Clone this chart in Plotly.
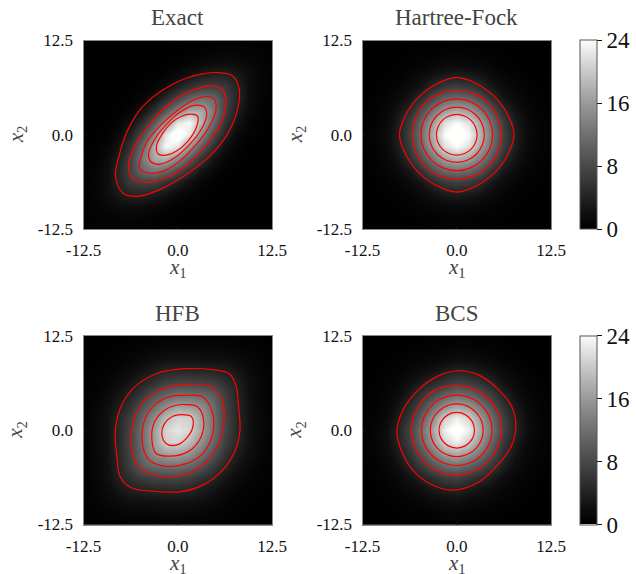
import plotly.graph_objects as go

grid = [-12.5, -10.9375, -9.375, -7.8125, -6.25, -4.6875, -3.125, -1.5625, 0,
        1.5625, 3.125, 4.6875, 6.25, 7.8125, 9.375, 10.9375, 12.5]
tick_vals = [-12.5, 0, 12.5]
tick_text = ["-12.5", "0.0", "12.5"]
titles = ["Exact", "Hartree-Fock", "HFB", "BCS"]
cbar_vals = [0, 8, 16, 24]

exact = [
 [.13,.2,.3,.3,.3,.22,.15,.08,.05,.02,.01,0,0,0,0,0,0],
 [.2,.45,.65,.75,.8,.65,.45,.3,.15,.08,.03,.01,0,0,0,0,0],
 [.3,.65,1.2,1.8,2,1.8,1.4,.8,.45,.22,.1,.04,.01,0,0,0,0],
 [.3,.75,1.8,3.2,4.2,4.4,3.6,2.6,1.4,.7,.3,.12,.04,.01,0,0,0],
 [.3,.8,2,4.2,6.6,7.5,7.3,5.8,4.1,2.1,.9,.35,.13,.04,.01,0,0],
 [.22,.65,1.8,4.4,7.5,11.5,12.9,11.3,8.2,5.2,2.6,1,.35,.12,.04,.01,0],
 [.15,.45,1.4,3.6,7.3,12.9,17.4,18,14.5,9.8,5.6,2.6,.9,.3,.1,.03,.01],
 [.08,.3,.8,2.6,5.8,11.3,18,23.8,22.2,15.7,9.8,5.2,2.1,.7,.22,.08,.02],
 [.05,.15,.45,1.4,4.1,8.2,14.5,22.2,26,22.2,14.5,8.2,4.1,1.4,.45,.15,.05],
 [.02,.08,.22,.7,2.1,5.2,9.8,15.7,22.2,23.8,18,11.3,5.8,2.6,.8,.3,.08],
 [.01,.03,.1,.3,.9,2.6,5.6,9.8,14.5,18,17.4,12.9,7.3,3.6,1.4,.45,.15],
 [0,.01,.04,.12,.35,1,2.6,5.2,8.2,11.3,12.9,11.5,7.5,4.4,1.8,.65,.22],
 [0,0,.01,.04,.13,.35,.9,2.1,4.1,5.8,7.3,7.5,6.6,4.2,2,.8,.3],
 [0,0,0,.01,.04,.12,.3,.7,1.4,2.6,3.6,4.4,4.2,3.2,1.8,.75,.3],
 [0,0,0,0,.01,.04,.1,.22,.45,.8,1.4,1.8,2,1.8,1.2,.65,.3],
 [0,0,0,0,0,.01,.03,.08,.15,.3,.45,.65,.8,.75,.65,.45,.2],
 [0,0,0,0,0,0,.01,.02,.05,.08,.15,.22,.3,.3,.3,.2,.13],
]

hartree_fock = [
 [0,.01,.02,.03,.05,.1,.15,.2,.2,.2,.15,.1,.05,.03,.02,.01,0],
 [.01,.02,.05,.1,.2,.3,.4,.5,.6,.5,.4,.3,.2,.1,.05,.02,.01],
 [.02,.05,.1,.2,.4,.7,1,1.3,1.6,1.3,1,.7,.4,.2,.1,.05,.02],
 [.03,.1,.2,.4,.9,1.5,2.5,3.3,3.6,3.3,2.5,1.5,.9,.4,.2,.1,.03],
 [.05,.2,.4,.9,1.6,2.8,5,6.6,7.1,6.6,5,2.8,1.6,.9,.4,.2,.05],
 [.1,.3,.7,1.5,2.8,5.5,8.9,11.3,12.2,11.3,8.9,5.5,2.8,1.5,.7,.3,.1],
 [.15,.4,1,2.5,5,8.9,13.1,16.7,18.2,16.7,13.1,8.9,5,2.5,1,.4,.15],
 [.2,.5,1.3,3.3,6.6,11.3,16.7,21.8,23.8,21.8,16.7,11.3,6.6,3.3,1.3,.5,.2],
 [.2,.6,1.6,3.6,7.1,12.2,18.2,23.8,26,23.8,18.2,12.2,7.1,3.6,1.6,.6,.2],
 [.2,.5,1.3,3.3,6.6,11.3,16.7,21.8,23.8,21.8,16.7,11.3,6.6,3.3,1.3,.5,.2],
 [.15,.4,1,2.5,5,8.9,13.1,16.7,18.2,16.7,13.1,8.9,5,2.5,1,.4,.15],
 [.1,.3,.7,1.5,2.8,5.5,8.9,11.3,12.2,11.3,8.9,5.5,2.8,1.5,.7,.3,.1],
 [.05,.2,.4,.9,1.6,2.8,5,6.6,7.1,6.6,5,2.8,1.6,.9,.4,.2,.05],
 [.03,.1,.2,.4,.9,1.5,2.5,3.3,3.6,3.3,2.5,1.5,.9,.4,.2,.1,.03],
 [.02,.05,.1,.2,.4,.7,1,1.3,1.6,1.3,1,.7,.4,.2,.1,.05,.02],
 [.01,.02,.05,.1,.2,.3,.4,.5,.6,.5,.4,.3,.2,.1,.05,.02,.01],
 [0,.01,.02,.03,.05,.1,.15,.2,.2,.2,.15,.1,.05,.03,.02,.01,0],
]

hfb = [
 [.1,.15,.2,.3,.35,.35,.4,.4,.4,.4,.35,.25,.15,.1,.08,.04,.02],
 [.15,.4,.6,.7,.9,.9,1,1.1,1.1,1,.85,.6,.4,.25,.15,.07,.04],
 [.2,.6,1.1,1.6,2.1,2.2,2.3,2.4,2.4,2.3,2,1.4,.85,.4,.25,.15,.08],
 [.3,.7,1.6,2.8,3.8,4.2,4.5,4.6,4.6,4.4,3.5,2.6,1.6,.85,.4,.25,.1],
 [.35,.9,2.1,3.8,5.5,7,7.4,7.7,7.7,7.1,5.7,4.3,2.8,1.6,.85,.4,.15],
 [.35,.9,2.2,4.2,7,10,11.5,11.9,12,11,9,6.4,4.3,2.6,1.4,.6,.25],
 [.4,1,2.3,4.5,7.4,11.5,15.1,16.4,16.7,15,12.2,9,5.7,3.5,2,.85,.35],
 [.4,1.1,2.4,4.6,7.7,11.9,16.4,20.6,20.9,18.8,15,11,7.1,4.4,2.3,1,.4],
 [.4,1.1,2.4,4.6,7.7,12,16.7,20.9,22.3,20.9,16.7,12,7.7,4.6,2.4,1.1,.4],
 [.4,1,2.3,4.4,7.1,11,15,18.8,20.9,20.6,16.4,11.9,7.7,4.6,2.4,1.1,.4],
 [.35,.85,2,3.5,5.7,9,12.2,15,16.7,16.4,15.1,11.5,7.4,4.5,2.3,1,.4],
 [.25,.6,1.4,2.6,4.3,6.4,9,11,12,11.9,11.5,10,7,4.2,2.2,.9,.35],
 [.15,.4,.85,1.6,2.8,4.3,5.7,7.1,7.7,7.7,7.4,7,5.5,3.8,2.1,.9,.35],
 [.1,.25,.4,.85,1.6,2.6,3.5,4.4,4.6,4.6,4.5,4.2,3.8,2.8,1.6,.7,.3],
 [.08,.15,.25,.4,.85,1.4,2,2.3,2.4,2.4,2.3,2.2,2.1,1.6,1.1,.6,.2],
 [.04,.07,.15,.25,.4,.6,.85,1,1.1,1.1,1,.9,.9,.7,.6,.4,.15],
 [.02,.04,.08,.1,.15,.25,.35,.4,.4,.4,.4,.35,.35,.3,.2,.15,.1],
]

bcs = [
 [.01,.02,.04,.07,.1,.15,.25,.3,.3,.25,.2,.12,.08,.05,.03,.02,.01],
 [.02,.05,.08,.15,.3,.4,.55,.75,.8,.5,.45,.35,.22,.12,.06,.04,.02],
 [.04,.08,.15,.35,.6,1,1.4,1.7,1.9,1.4,1.1,.8,.5,.28,.12,.06,.03],
 [.07,.15,.35,.75,1.3,2.1,3.1,3.8,4.1,3.3,2.5,1.7,1,.6,.28,.12,.05],
 [.1,.3,.6,1.3,2.4,4.1,5.6,6.9,7.3,6.2,4.9,3.5,2,1,.5,.22,.08],
 [.15,.4,1,2.1,4.1,6.4,9,11.2,12.1,10.5,8.3,5.7,3.5,1.7,.8,.35,.12],
 [.25,.55,1.4,3.1,5.6,9,12.8,16,17.3,15.4,12.2,8.3,4.9,2.5,1.1,.45,.2],
 [.3,.75,1.7,3.8,6.9,11.2,16,20.9,23,20.5,15.4,10.5,6.2,3.3,1.4,.5,.25],
 [.3,.8,1.9,4.1,7.3,12.1,17.3,23,25,23,17.3,12.1,7.3,4.1,1.9,.8,.3],
 [.25,.5,1.4,3.3,6.2,10.5,15.4,20.5,23,20.9,16,11.2,6.9,3.8,1.7,.75,.3],
 [.2,.45,1.1,2.5,4.9,8.3,12.2,15.4,17.3,16,12.8,9,5.6,3.1,1.4,.55,.25],
 [.12,.35,.8,1.7,3.5,5.7,8.3,10.5,12.1,11.2,9,6.4,4.1,2.1,1,.4,.15],
 [.08,.22,.5,1,2,3.5,4.9,6.2,7.3,6.9,5.6,4.1,2.4,1.3,.6,.3,.1],
 [.05,.12,.28,.6,1,1.7,2.5,3.3,4.1,3.8,3.1,2.1,1.3,.75,.35,.15,.07],
 [.03,.06,.12,.28,.5,.8,1.1,1.4,1.9,1.7,1.4,1,.6,.35,.15,.08,.04],
 [.02,.04,.06,.12,.22,.35,.45,.5,.8,.75,.55,.4,.3,.15,.08,.05,.02],
 [.01,.02,.03,.05,.08,.12,.2,.25,.3,.3,.25,.15,.1,.07,.04,.02,.01],
]

# Contour lines, as (x1, x2) pairs, one list per level
exact_lines = [
 [(5.29,8.25),(7.28,7.8),(8.16,5.95),(7.8,2.87),(6.39,-.22),(4.19,-2.87),(1.1,-5.29),(-2.43,-7.28),(-5.29,-8.16),(-7.28,-7.72),(-8.25,-5.51),(-7.8,-2.87),(-6.61,.66),(-4.63,3.75),(-1.98,5.95),(1.1,7.5),(3.31,8.07)],
 [(4.41,6.48),(5.95,5.95),(6.39,4.19),(5.73,1.54),(3.97,-1.1),(1.54,-3.75),(-1.54,-5.73),(-4.19,-6.31),(-5.95,-5.86),(-6.53,-4.19),(-5.73,-1.54),(-3.97,1.1),(-1.54,3.75),(1.54,5.73)],
 [(3.75,5.07),(4.85,4.72),(5.07,3.31),(4.19,1.1),(2.43,-1.32),(.22,-3.53),(-1.98,-4.85),(-3.97,-5.07),(-5.07,-4.41),(-4.85,-2.87),(-4.19,-1.1),(-2.43,1.1),(-.22,3.09),(1.98,4.54)],
 [(2.43,3.92),(3.53,3.66),(3.84,2.65),(3.09,.66),(1.54,-1.32),(-.44,-3.09),(-2.43,-3.92),(-3.53,-3.62),(-3.88,-2.65),(-3.09,-.66),(-1.54,1.32),(.44,3.09)],
 [(1.76,2.73),(2.65,2.43),(2.51,1.1),(1.32,-.88),(-.22,-2.2),(-1.76,-2.73),(-2.65,-2.51),(-2.78,-1.32),(-1.98,.22),(-.88,1.54),(.44,2.43)],
]
hartree_fock_lines = [
 [(7.6,0),(6.7,2.75),(5.02,5.02),(2.75,6.7),(0,7.6),(-2.75,6.7),(-5.02,5.02),(-6.7,2.75),(-7.6,0),(-6.7,-2.75),(-5.02,-5.02),(-2.75,-6.7),(0,-7.6),(2.75,-6.7),(5.02,-5.02),(6.7,-2.75)],
 [(5.9,0),(5.45,2.26),(4.2,4.2),(2.26,5.45),(0,5.9),(-2.26,5.45),(-4.2,4.2),(-5.45,2.26),(-5.9,0),(-5.45,-2.26),(-4.2,-4.2),(-2.26,-5.45),(0,-5.9),(2.26,-5.45),(4.2,-4.2),(5.45,-2.26)],
 [(4.75,0),(4.39,1.82),(3.36,3.36),(1.82,4.39),(0,4.75),(-1.82,4.39),(-3.36,3.36),(-4.39,1.82),(-4.75,0),(-4.39,-1.82),(-3.36,-3.36),(-1.82,-4.39),(0,-4.75),(1.82,-4.39),(3.36,-3.36),(4.39,-1.82)],
 [(3.66,0),(3.38,1.4),(2.59,2.59),(1.4,3.38),(0,3.66),(-1.4,3.38),(-2.59,2.59),(-3.38,1.4),(-3.66,0),(-3.38,-1.4),(-2.59,-2.59),(-1.4,-3.38),(0,-3.66),(1.4,-3.38),(2.59,-2.59),(3.38,-1.4)],
 [(2.7,0),(2.49,1.03),(1.91,1.91),(1.03,2.49),(0,2.7),(-1.03,2.49),(-1.91,1.91),(-2.49,1.03),(-2.7,0),(-2.49,-1.03),(-1.91,-1.91),(-1.03,-2.49),(0,-2.7),(1.03,-2.49),(1.91,-1.91),(2.49,-1.03)],
]
hfb_lines = [
 [(1.1,8.16),(4.63,8.02),(6.83,7.5),(7.72,5.95),(8.07,3.09),(8.25,0),(7.63,-2.65),(5.95,-5.29),(3.31,-7.28),(.22,-8.16),(-3.31,-8.07),(-6.17,-7.63),(-7.63,-6.17),(-8.07,-3.53),(-8.29,-.44),(-7.72,2.65),(-5.95,5.51),(-2.87,7.5)],
 [(1.54,6.08),(4.19,5.86),(5.73,4.41),(6.17,1.76),(5.73,-.88),(4.19,-3.75),(1.54,-5.64),(-1.32,-6.17),(-3.97,-5.64),(-5.73,-3.97),(-6.17,-1.32),(-5.73,1.76),(-4.19,4.19),(-1.54,5.64)],
 [(1.1,4.63),(3.31,4.41),(4.63,2.2),(4.63,-.44),(3.31,-3.09),(.88,-4.5),(-1.98,-4.72),(-3.97,-3.75),(-4.72,-1.32),(-4.32,1.54),(-2.87,3.53),(-.88,4.5)],
 [(1.1,3.4),(2.65,3.09),(3.4,1.54),(3.09,-.88),(1.32,-2.87),(-1.1,-3.44),(-2.87,-3.09),(-3.44,-1.1),(-3.09,1.1),(-1.76,2.65),(-.22,3.31)],
 [(.44,2.07),(1.76,1.85),(2.07,.88),(1.32,-.88),(-.22,-1.98),(-1.54,-1.76),(-2.12,-.44),(-1.76,.88),(-.66,1.85)],
]
bcs_lines = [
 [(.35,7.89),(3,7.28),(5.64,5.29),(7.32,3.09),(7.85,.44),(7.19,-2.2),(5.2,-4.85),(3,-6.83),(-.53,-7.94),(-3.62,-7.05),(-5.82,-5.29),(-7.36,-2.65),(-7.94,-.22),(-7.14,2.65),(-5.16,5.29),(-2.29,7.28)],
 [(.13,5.91),(2.56,5.29),(4.76,3.53),(5.95,.22),(5.2,-2.65),(3,-5.07),(-.09,-5.91),(-3.17,-5.07),(-5.38,-2.65),(-6,0),(-5.16,3.09),(-2.95,5.29)],
 [(4.67,0),(4.04,2.34),(2.34,4.04),(0,4.67),(-2.34,4.04),(-4.04,2.34),(-4.67,0),(-4.04,-2.34),(-2.34,-4.04),(0,-4.67),(2.34,-4.04),(4.04,-2.34)],
 [(3.5,0),(3.03,1.75),(1.75,3.03),(0,3.5),(-1.75,3.03),(-3.03,1.75),(-3.5,0),(-3.03,-1.75),(-1.75,-3.03),(0,-3.5),(1.75,-3.03),(3.03,-1.75)],
 [(2.36,0),(2.04,1.18),(1.18,2.04),(0,2.36),(-1.18,2.04),(-2.04,1.18),(-2.36,0),(-2.04,-1.18),(-1.18,-2.04),(0,-2.36),(1.18,-2.04),(2.04,-1.18)],
]

W, H = 636, 574
SERIF = "Liberation Serif"
panels = [
    (exact, exact_lines, 83.5, 272, 40.5, 229, "x", "y", False),
    (hartree_fock, hartree_fock_lines, 362.5, 551, 40.5, 229, "x2", "y2", True),
    (hfb, hfb_lines, 83.5, 272, 336, 524.5, "x3", "y3", False),
    (bcs, bcs_lines, 362.5, 551, 336, 524.5, "x4", "y4", True),
]

fig = go.Figure()
annotations = []
axes = {}
for k, (z, lines, x0, x1, y0, y1, xa, ya, bar) in enumerate(panels):
    hm = dict(x=grid, y=grid, z=z, xaxis=xa, yaxis=ya, zmin=0, zmax=24,
              colorscale="gray", zsmooth="best", showscale=bar, hoverinfo="skip")
    if bar:
        hm["colorbar"] = dict(
            x=580 / W, xanchor="left", xpad=0, y=1 - y1 / H, yanchor="bottom", ypad=0,
            lenmode="pixels", len=y1 - y0, thicknessmode="pixels", thickness=17,
            tickvals=cbar_vals, ticks="outside", ticklen=5, tickwidth=1, tickcolor="#111",
            tickfont=dict(family=SERIF, size=23, color="#111"),
            outlinewidth=1, outlinecolor="#555")
    fig.add_trace(go.Heatmap(**hm))
    for line in lines:
        closed = line + line[:1]
        fig.add_trace(go.Scatter(x=[p[0] for p in closed], y=[p[1] for p in closed],
                                 xaxis=xa, yaxis=ya, mode="lines", hoverinfo="skip",
                                 line=dict(color="red", width=1.2, shape="spline", smoothing=1.0)))
    suffix = xa[1:]
    common = dict(range=[-12.5, 12.5], tickvals=tick_vals, ticktext=tick_text,
                  ticks="inside", ticklen=3, tickcolor="#111", showgrid=False, zeroline=False,
                  showline=True, linecolor="#888", linewidth=1, mirror=True, automargin=False,
                  ticklabelstandoff=6,
                  tickfont=dict(family=SERIF, size=17, color="#111"))
    axes[f"xaxis{suffix}"] = dict(common, domain=[x0 / W, x1 / W], anchor=ya)
    axes[f"yaxis{suffix}"] = dict(common, domain=[1 - y1 / H, 1 - y0 / H], anchor=xa)
    annotations.append(dict(text=titles[k], xref="paper", yref="paper", x=(x0 + x1) / 2 / W,
                            y=1 - (y0 - 23) / H, xanchor="center", yanchor="middle",
                            showarrow=False, font=dict(family=SERIF, size=23, color="#444")))
    annotations.append(dict(text="<i>x</i><sub>1</sub>", xref="paper", yref="paper",
                            x=(x0 + x1) / 2 / W, y=1 - (y1 + 39) / H, xanchor="center",
                            yanchor="middle", showarrow=False,
                            font=dict(family=SERIF, size=21, color="#444")))
    annotations.append(dict(text="<i>x</i><sub>2</sub>", xref="paper", yref="paper",
                            x=(x0 - 67) / W, y=1 - (y0 + y1) / 2 / H, xanchor="center",
                            yanchor="middle", textangle=-90, showarrow=False,
                            font=dict(family=SERIF, size=21, color="#444")))

fig.update_layout(width=W, height=H, margin=dict(l=0, r=0, t=0, b=0, autoexpand=False),
                  paper_bgcolor="white", plot_bgcolor="black", showlegend=False,
                  annotations=annotations, **axes)
fig.write_html("out.html", config={"displayModeBar": False},
               post_script="document.body.style.margin='0';")
